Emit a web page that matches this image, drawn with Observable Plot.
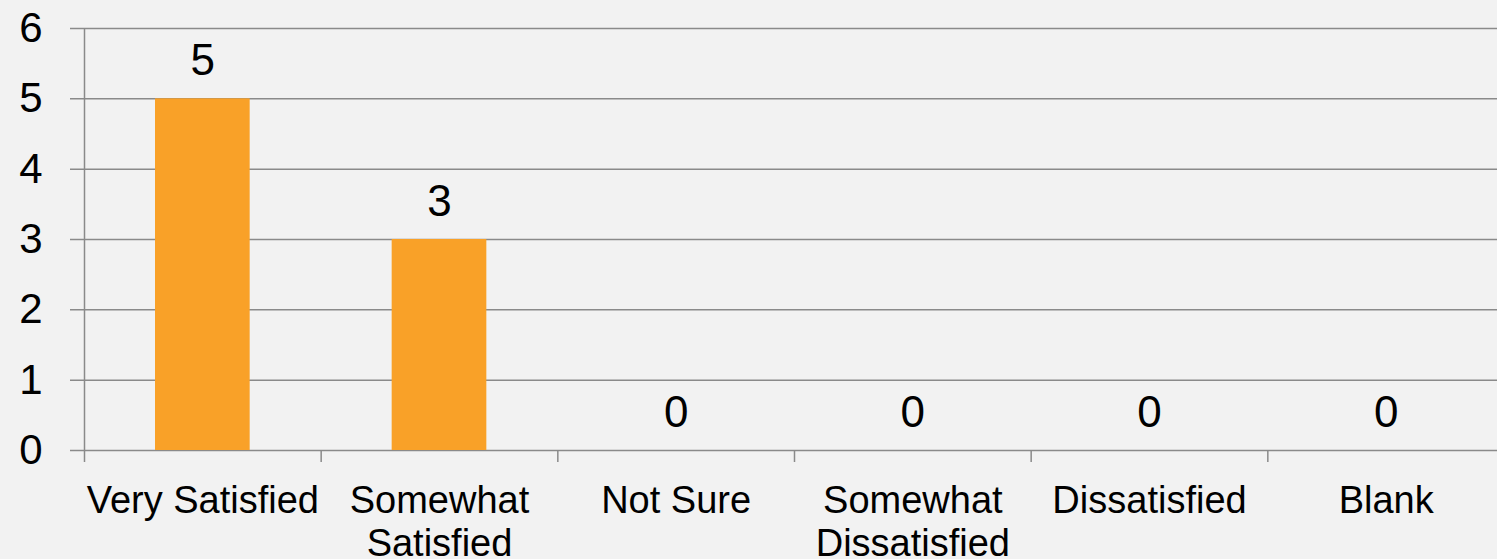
<!DOCTYPE html>
<html>
<head>
<meta charset="utf-8">
<script src="https://cdn.jsdelivr.net/npm/d3@7"></script>
<script src="https://cdn.jsdelivr.net/npm/@observablehq/plot@0.6"></script>
<style>
  html, body { margin: 0; padding: 0; background: #f2f2f2; }
  #chart svg { display: block; }
</style>
</head>
<body>
<div id="chart"></div>
<script>
const categories = ["Very Satisfied", "Somewhat Satisfied", "Not Sure", "Somewhat Dissatisfied", "Dissatisfied", "Blank"];
const counts = [5, 3, 0, 0, 0, 0];
const yTicks = [0, 1, 2, 3, 4, 5, 6];

const data = categories.map((c, i) => ({category: c, index: i, count: counts[i]}));
const gridColor = "#8a8a8a";

const chart = Plot.plot({
  width: 1497,
  height: 559,
  marginLeft: 70,
  marginRight: -7,
  marginTop: 28,
  marginBottom: 109,
  style: {background: "transparent", fontFamily: "'Liberation Sans', Arial, sans-serif", color: "#000", overflow: "hidden"},
  x: {type: "linear", domain: [0, categories.length], insetLeft: 14},
  y: {domain: [0, 6]},
  marks: [
    Plot.ruleY(yTicks, {stroke: gridColor, strokeWidth: 1.5}),
    Plot.ruleX([0], {y1: 0, y2: 6, stroke: gridColor, strokeWidth: 1.5}),
    Plot.axisY({ticks: yTicks, tickSize: 0, tickPadding: 28, fontSize: 42, label: null, tickFormat: d => String(d)}),
    Plot.axisX({ticks: d3.range(categories.length + 1), tickSize: 12, tickFormat: () => "", stroke: gridColor, strokeWidth: 1.5, label: null}),
    Plot.axisX({ticks: categories.map((c, i) => i + 0.5), tickSize: 0, tickPadding: 31, fontSize: 38, lineWidth: 7.4, lineHeight: 1.15, tickFormat: d => categories[Math.floor(d)], label: null}),
    Plot.rectY(data, {x1: "index", x2: d => d.index + 1, y: "count", fill: "#f9a128", insetLeft: 71, insetRight: 71}),
    Plot.text(data, {x: d => d.index + 0.5, y: "count", text: d => String(d.count), dy: -38, fontSize: 44})
  ]
});
document.getElementById("chart").appendChild(chart);
</script>
</body>
</html>
